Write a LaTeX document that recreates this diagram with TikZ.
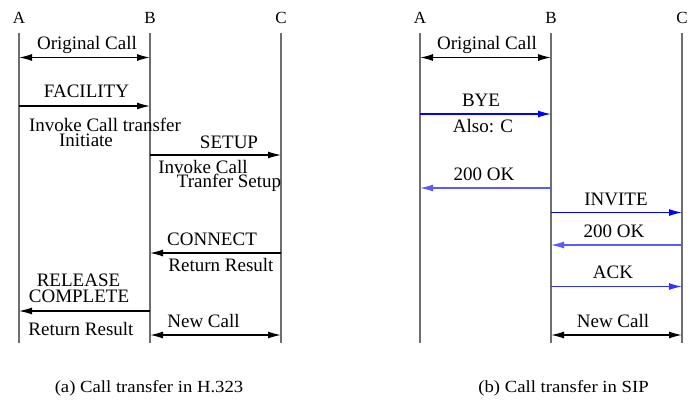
\documentclass[tikz,border=0pt]{standalone}
\usepackage{fontspec}
\setmainfont{Liberation Serif}
\usetikzlibrary{arrows.meta}
\definecolor{lifeline}{RGB}{110,110,110}
\definecolor{msgblue}{RGB}{0,0,255}
\definecolor{okblue}{RGB}{90,90,255}
\definecolor{ackblue}{RGB}{50,50,255}
\begin{document}
\begin{tikzpicture}[x=1pt,y=-1pt,
  life/.style={draw=lifeline,line width=1.3pt},
  msg/.style={line width=1.2pt,-{Latex[length=13pt,width=7pt]}},
  dblarrow/.style={line width=1.4pt,{Latex[length=13pt,width=7pt]}-{Latex[length=13pt,width=7pt]}},
  lbl/.style={anchor=base,inner sep=0pt,font=\fontsize{19}{22}\selectfont},
  ent/.style={anchor=base,inner sep=0pt,font=\fontsize{17}{20}\selectfont},
  captext/.style={anchor=base,inner sep=0pt,font=\fontsize{17}{20}\selectfont}]
\useasboundingbox (0,0) rectangle (690,408);
% ---------- left: H.323 ----------
\coordinate (LAt) at (19,33);  \coordinate (LAb) at (19,343);
\coordinate (LBt) at (150,33); \coordinate (LBb) at (150,343);
\coordinate (LCt) at (281,33); \coordinate (LCb) at (281,343);
\node[ent] (LA) at (19,23.5) {A};
\node[ent] (LB) at (150,23.5) {B};
\node[ent] (LC) at (281,23.5) {C};
\draw[life] (LAt) -- (LAb);
\draw[life] (LBt) -- (LBb);
\draw[life] (LCt) -- (LCb);
\draw[dblarrow] (LAt |- 0,57.5) -- (LBt |- 0,57.5);
\node[lbl] (l1) at (87,49.5) {Original Call};
\draw[msg] (LAt |- 0,106) -- (LBt |- 0,106);
\node[lbl] (l2) at (86.5,97.7) {FACILITY};
\node[lbl] (l3) at (105,131.5) {Invoke Call transfer};
\node[lbl] (l4) at (86,146.5) {Initiate};
\draw[msg] (LBt |- 0,155) -- (LCt |- 0,155);
\node[lbl] (l5) at (229,148) {SETUP};
\node[lbl] (l6) at (203,173) {Invoke Call};
\node[lbl] (l7) at (229,187.5) {Tranfer Setup};
\draw[msg] (LCt |- 0,253) -- (LBt |- 0,253);
\node[lbl] (l8) at (212,245) {CONNECT};
\node[lbl] (l9) at (221,271.7) {Return Result};
\draw[msg] (LBt |- 0,311) -- (LAt |- 0,311);
\node[lbl] (l10) at (78.5,286) {RELEASE};
\node[lbl] (l11) at (79,302.7) {COMPLETE};
\node[lbl] (l12) at (81,335) {Return Result};
\draw[dblarrow] (LBt |- 0,335) -- (LCt |- 0,335);
\node[lbl] (l13) at (203.5,327.3) {New Call};
\node[captext] (capa) at (149,392) {\scalebox{1.1}[1]{(a) Call transfer in H.323}};
% ---------- right: SIP ----------
\coordinate (RAt) at (420,33);  \coordinate (RAb) at (420,343);
\coordinate (RBt) at (551,33);  \coordinate (RBb) at (551,343);
\coordinate (RCt) at (682,33);  \coordinate (RCb) at (682,343);
\node[ent] (RA) at (420,23.5) {A};
\node[ent] (RB) at (551,23.5) {B};
\node[ent] (RC) at (682,23.5) {C};
\draw[life] (RAt) -- (RAb);
\draw[life] (RBt) -- (RBb);
\draw[life] (RCt) -- (RCb);
\draw[dblarrow] (RAt |- 0,57.5) -- (RBt |- 0,57.5);
\node[lbl] (r1) at (487,49.5) {Original Call};
\draw[msg,msgblue] (RAt |- 0,114) -- (RBt |- 0,114);
\node[lbl] (r2) at (481,106.7) {BYE};
\node[lbl] (r3) at (483,132) {Also: C};
\draw[msg,okblue] (RBt |- 0,188) -- (RAt |- 0,188);
\node[lbl] (r4) at (484,180.7) {200 OK};
\draw[msg,msgblue] (RBt |- 0,212.5) -- (RCt |- 0,212.5);
\node[lbl] (r5) at (616,205) {INVITE};
\draw[msg,okblue] (RCt |- 0,245) -- (RBt |- 0,245);
\node[lbl] (r6) at (614,237.3) {200 OK};
\draw[msg,ackblue] (RBt |- 0,286.5) -- (RCt |- 0,286.5);
\node[lbl] (r7) at (613,278.3) {ACK};
\draw[dblarrow] (RBt |- 0,335) -- (RCt |- 0,335);
\node[lbl] (r8) at (613,327.3) {New Call};
\node[captext] (capb) at (563.5,392) {\scalebox{1.1}[1]{(b) Call transfer in SIP}};
\end{tikzpicture}
\end{document}
